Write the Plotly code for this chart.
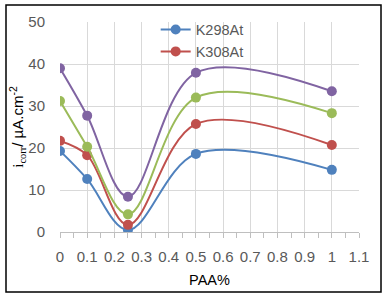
import plotly.graph_objects as go

paa = [0, 0.1, 0.25, 0.5, 1]
k298 = [19.3, 12.6, 0.5, 18.6, 14.8]
k308 = [21.7, 18.3, 1.7, 25.7, 20.7]
k318 = [31.2, 20.3, 4.2, 32.0, 28.3]
k328 = [39.0, 27.7, 8.4, 37.9, 33.5]

names = ["K298At", "K308At", "K318At", "K328At"]
colors = ["#4F81BD", "#C0504D", "#9BBB59", "#8064A2"]
series = [k298, k308, k318, k328]

fig = go.Figure()
for i, (n, c, s) in enumerate(zip(names, colors, series)):
    fig.add_trace(go.Scatter(
        x=paa, y=s, name=n, mode="lines+markers",
        line=dict(color=c, width=2, shape="spline", smoothing=1.0),
        marker=dict(color=c, size=10),
        showlegend=(i < 2),
    ))

fig.update_layout(
    width=387, height=299,
    margin=dict(l=60, r=28, t=22, b=67),
    paper_bgcolor="white", plot_bgcolor="white",
    font=dict(family="Liberation Sans, Arial", size=15, color="#595959"),
    legend=dict(x=0.32, y=1.04, xanchor="left", yanchor="top",
                bgcolor="rgba(0,0,0,0)", font=dict(size=14.5, color="#595959"),
                tracegroupgap=0, itemwidth=30),
    shapes=[dict(type="rect", xref="paper", yref="paper",
                 x0=-0.1806, x1=1.0736, y0=-0.2857, y1=1.081,
                 line=dict(color="black", width=1.5), layer="above")],
)
fig.update_xaxes(
    range=[0, 1.1], dtick=0.1, tick0=0, showgrid=True, gridcolor="#D9D9D9",
    gridwidth=1, zeroline=False, showline=True, linecolor="#BFBFBF",
    ticks="outside", ticklen=5, tickcolor="#BFBFBF", ticklabelstandoff=6,
    minor=dict(dtick=0.05, ticks="outside", ticklen=5, tickcolor="#BFBFBF", showgrid=False),
    title=dict(text="PAA%", font=dict(color="black", size=14.5), standoff=10),
)
fig.update_yaxes(
    range=[0, 50], dtick=10, showgrid=True, gridcolor="#D9D9D9", gridwidth=1,
    zeroline=False, showline=False, ticks="", ticklabelstandoff=14,
    title=dict(text="<span style='font-family:Liberation Serif'>i<sub>corr</sub></span>/ µA.cm<sup>-2</sup>",
               font=dict(color="black", size=15), standoff=0),
)

fig.write_html("out.html", config={"displayModeBar": False},
               post_script="document.body.style.margin='0';")
